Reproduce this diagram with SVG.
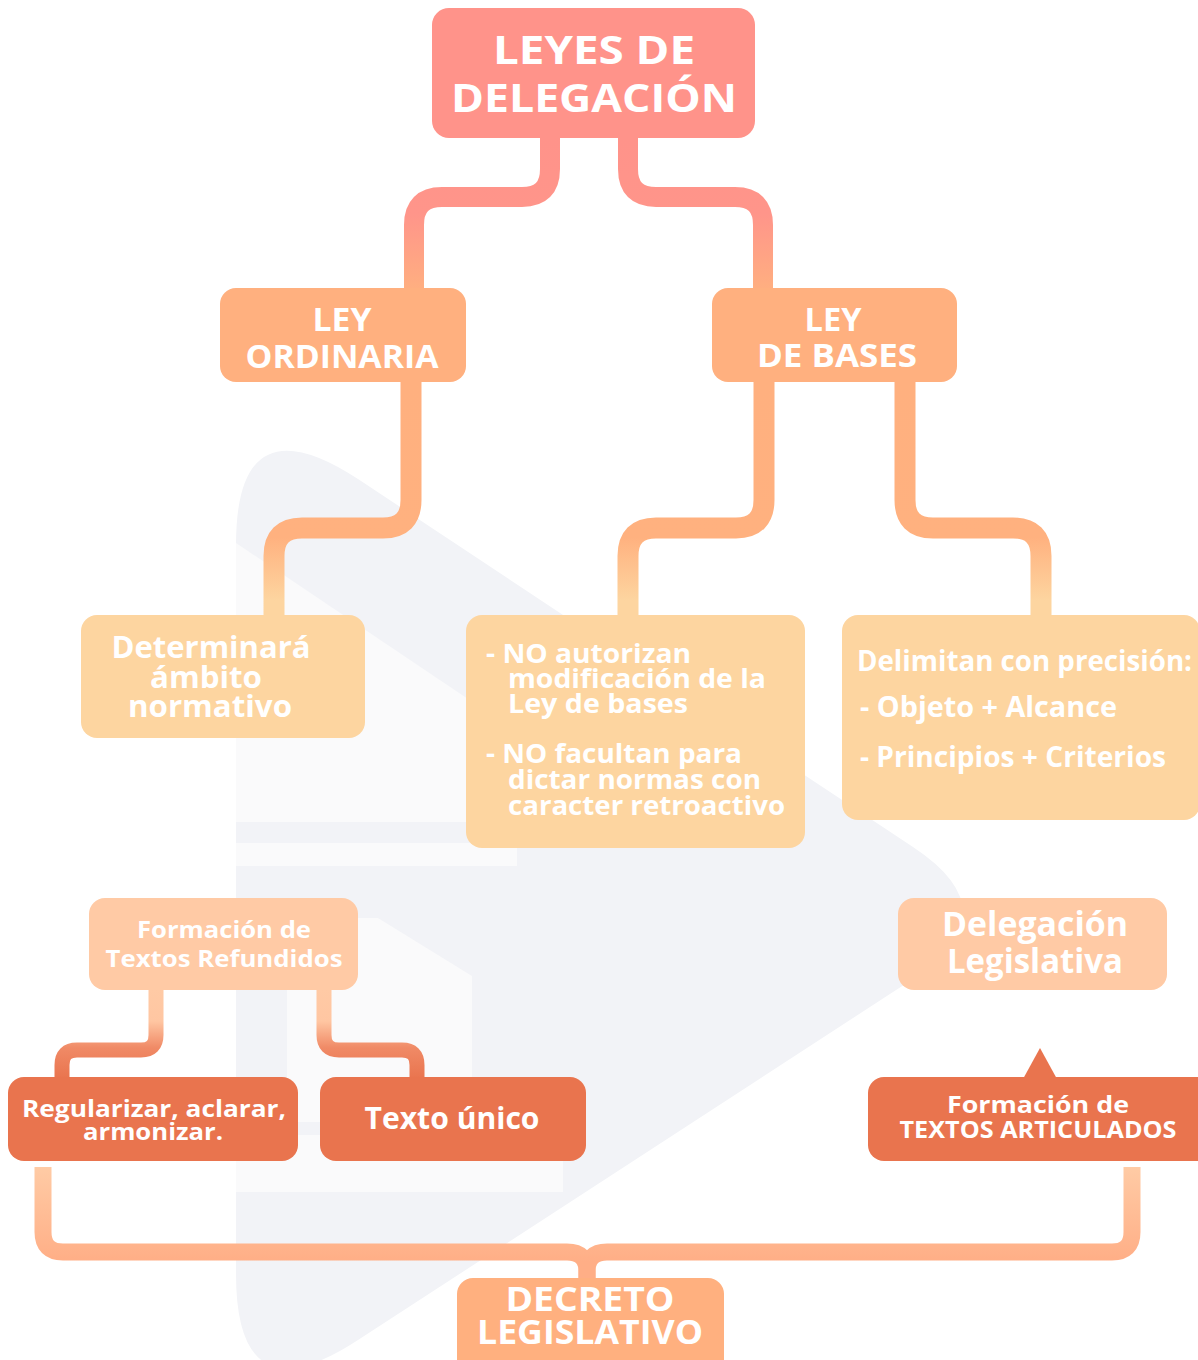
<svg xmlns="http://www.w3.org/2000/svg" width="1198" height="1360" viewBox="0 0 1198 1360">
<defs>
<style>
.t{font-family:"Open Sans","Liberation Sans",sans-serif;font-weight:700;fill:#ffffff}
.c{text-anchor:middle}
.conn{fill:none;stroke-linejoin:round}
.wm{fill:#f2f3f7}
.wl{fill:#fafafb}
</style>
<linearGradient id="g1" gradientUnits="userSpaceOnUse" x1="0" y1="138" x2="0" y2="290">
<stop offset="0" stop-color="#ff938a"/><stop offset="0.5" stop-color="#ff958a"/><stop offset="1" stop-color="#ffaf80"/>
</linearGradient>
<linearGradient id="g2" gradientUnits="userSpaceOnUse" x1="0" y1="382" x2="0" y2="617">
<stop offset="0" stop-color="#ffb07f"/><stop offset="0.66" stop-color="#ffb17f"/><stop offset="0.93" stop-color="#fdd5a0"/>
</linearGradient>
<linearGradient id="g3" gradientUnits="userSpaceOnUse" x1="0" y1="990" x2="0" y2="1079">
<stop offset="0" stop-color="#ffcaa5"/><stop offset="0.35" stop-color="#ffc6a2"/><stop offset="0.65" stop-color="#f08a66"/><stop offset="1" stop-color="#e9744e"/>
</linearGradient>
<linearGradient id="g4" gradientUnits="userSpaceOnUse" x1="0" y1="1167" x2="0" y2="1262">
<stop offset="0" stop-color="#ffcba5"/><stop offset="1" stop-color="#ffae86"/>
</linearGradient>
</defs>
<rect width="1198" height="1360" fill="#ffffff"/>
<g id="watermark">
<path class="wm" d="M236,545 Q236,399 358,479 L913,847 Q1013,913 913,979 L358,1340 Q236,1420 236,1274 Z"/>
<path class="wl" d="M236,822 L236,543 L517,732 L517,822 Z"/>
<rect class="wl" x="236" y="843" width="281" height="23"/>
<path class="wl" d="M287,918 L378,918 L472,976 L472,1099 L287,1099 Z"/>
<rect class="wl" x="236" y="1099" width="236" height="23"/>
<rect class="wl" x="236" y="1135" width="327" height="57"/>
</g>
<g id="connectors">
<path class="conn" stroke="url(#g1)" stroke-width="20" d="M550,138 V169 Q550,197 522,197 H442 Q414,197 414,225 V290"/>
<path class="conn" stroke="url(#g1)" stroke-width="20" d="M628,138 V169 Q628,197 656,197 H735 Q763,197 763,225 V290"/>
<path class="conn" stroke="url(#g2)" stroke-width="21" d="M411,380 V500 Q411,528 383,528 H302 Q274,528 274,556 V617"/>
<path class="conn" stroke="url(#g2)" stroke-width="21" d="M764,380 V500 Q764,528 736,528 H656 Q628,528 628,556 V617"/>
<path class="conn" stroke="url(#g2)" stroke-width="21" d="M905,380 V500 Q905,528 933,528 H1013 Q1041,528 1041,556 V617"/>
<path class="conn" stroke="url(#g3)" stroke-width="15" d="M156,988 V1035 Q156,1050 141,1050 H77 Q62,1050 62,1065 V1079"/>
<path class="conn" stroke="url(#g3)" stroke-width="15" d="M324,988 V1035 Q324,1050 339,1050 H402 Q417,1050 417,1065 V1079"/>
<path class="conn" stroke="url(#g4)" stroke-width="17" d="M43,1167 V1232 Q43,1252 63,1252 H567 Q587,1252 587,1272 V1281"/>
<path class="conn" stroke="url(#g4)" stroke-width="17" d="M1132,1167 V1232 Q1132,1252 1112,1252 H607 Q587,1252 587,1272 V1281"/>
</g>
<g id="n-leyes">
<rect x="432" y="8" width="323" height="130" rx="17" fill="#ff938a"/>
<text class="t c" x="594" y="64" font-size="40" textLength="202" lengthAdjust="spacingAndGlyphs">LEYES DE</text>
<text class="t c" x="594" y="112" font-size="40" textLength="286" lengthAdjust="spacingAndGlyphs">DELEGACIÓN</text>
</g>
<g id="n-ordinaria">
<rect x="220" y="288" width="246" height="94" rx="16" fill="#ffb07f"/>
<text class="t c" x="342" y="331" font-size="33" textLength="59" lengthAdjust="spacingAndGlyphs">LEY</text>
<text class="t c" x="342" y="368" font-size="33" textLength="193" lengthAdjust="spacingAndGlyphs">ORDINARIA</text>
</g>
<g id="n-bases">
<rect x="712" y="288" width="245" height="94" rx="16" fill="#ffb07f"/>
<text class="t c" x="833" y="331" font-size="33" textLength="57" lengthAdjust="spacingAndGlyphs">LEY</text>
<text class="t c" x="837" y="367" font-size="33" textLength="160" lengthAdjust="spacingAndGlyphs">DE BASES</text>
</g>
<g id="n-determinara">
<rect x="81" y="615" width="284" height="123" rx="16" fill="#fdd5a0"/>
<text class="t c" x="211" y="658" font-size="30" textLength="199" lengthAdjust="spacingAndGlyphs">Determinará</text>
<text class="t c" x="206" y="688" font-size="30" textLength="112" lengthAdjust="spacingAndGlyphs">ámbito</text>
<text class="t c" x="210" y="717" font-size="30" textLength="164" lengthAdjust="spacingAndGlyphs">normativo</text>
</g>
<g id="n-noautorizan">
<rect x="466" y="615" width="339" height="233" rx="16" fill="#fdd5a0"/>
<text class="t" x="486" y="663" font-size="27" textLength="205" lengthAdjust="spacingAndGlyphs">- NO autorizan</text>
<text class="t" x="508" y="688" font-size="27" textLength="258" lengthAdjust="spacingAndGlyphs">modificación de la</text>
<text class="t" x="508" y="713" font-size="27" textLength="180" lengthAdjust="spacingAndGlyphs">Ley de bases</text>
<text class="t" x="486" y="763" font-size="27" textLength="256" lengthAdjust="spacingAndGlyphs">- NO facultan para</text>
<text class="t" x="508" y="789" font-size="27" textLength="253" lengthAdjust="spacingAndGlyphs">dictar normas con</text>
<text class="t" x="508" y="815" font-size="27" textLength="277" lengthAdjust="spacingAndGlyphs">caracter retroactivo</text>
</g>
<g id="n-delimitan">
<rect x="842" y="615" width="358" height="205" rx="16" fill="#fdd5a0"/>
<text class="t" x="857" y="671" font-size="28" textLength="335" lengthAdjust="spacingAndGlyphs">Delimitan con precisión:</text>
<text class="t" x="860" y="717" font-size="28" textLength="257" lengthAdjust="spacingAndGlyphs">- Objeto + Alcance</text>
<text class="t" x="860" y="767" font-size="28" textLength="306" lengthAdjust="spacingAndGlyphs">- Principios + Criterios</text>
</g>
<g id="n-refundidos">
<rect x="89" y="898" width="269" height="92" rx="16" fill="#ffcaa5"/>
<text class="t c" x="224" y="938" font-size="24" textLength="174" lengthAdjust="spacingAndGlyphs">Formación de</text>
<text class="t c" x="224" y="967" font-size="24" textLength="237" lengthAdjust="spacingAndGlyphs">Textos Refundidos</text>
</g>
<g id="n-delegacion">
<rect x="898" y="898" width="269" height="92" rx="16" fill="#ffcaa5"/>
<text class="t c" x="1035" y="936" font-size="34" textLength="186" lengthAdjust="spacingAndGlyphs">Delegación</text>
<text class="t c" x="1035" y="973" font-size="34" textLength="176" lengthAdjust="spacingAndGlyphs">Legislativa</text>
</g>
<g id="n-regularizar">
<rect x="8" y="1077" width="290" height="84" rx="16" fill="#e9744e"/>
<text class="t c" x="154" y="1117" font-size="24" textLength="264" lengthAdjust="spacingAndGlyphs">Regularizar, aclarar,</text>
<text class="t c" x="153" y="1140" font-size="24" textLength="140" lengthAdjust="spacingAndGlyphs">armonizar.</text>
</g>
<g id="n-texto-unico">
<rect x="320" y="1077" width="266" height="84" rx="16" fill="#e9744e"/>
<text class="t c" x="452" y="1129" font-size="30" textLength="175" lengthAdjust="spacingAndGlyphs">Texto único</text>
</g>
<g id="n-articulados">
<path d="M1023,1079 L1040,1048 L1057,1079 Z" fill="#e9744e"/>
<rect x="868" y="1077" width="345" height="84" rx="16" fill="#e9744e"/>
<text class="t c" x="1038" y="1113" font-size="23" textLength="182" lengthAdjust="spacingAndGlyphs">Formación de</text>
<text class="t c" x="1038" y="1138" font-size="23" textLength="277" lengthAdjust="spacingAndGlyphs">TEXTOS ARTICULADOS</text>
</g>
<g id="n-decreto">
<rect x="457" y="1278" width="267" height="110" rx="16" fill="#ffb07f"/>
<text class="t c" x="590" y="1311" font-size="34" textLength="169" lengthAdjust="spacingAndGlyphs">DECRETO</text>
<text class="t c" x="590" y="1344" font-size="34" textLength="226" lengthAdjust="spacingAndGlyphs">LEGISLATIVO</text>
</g>
</svg>
